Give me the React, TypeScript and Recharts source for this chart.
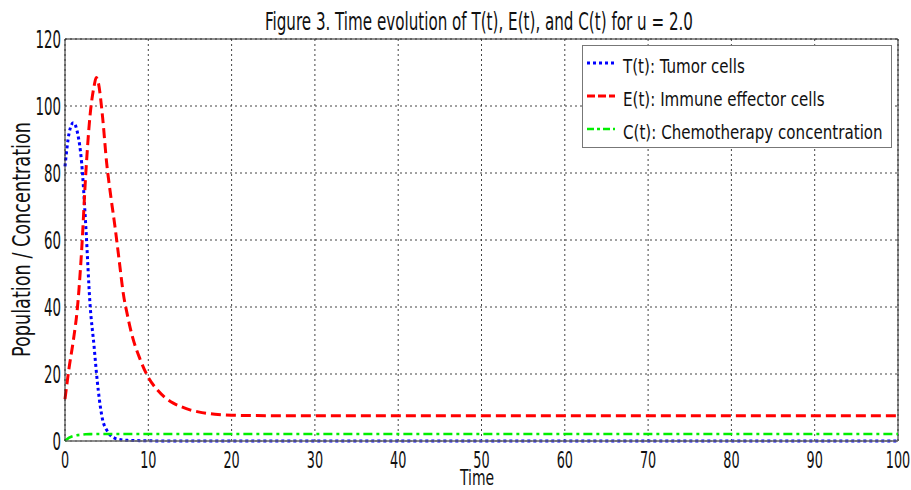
import React from "react";
import { LineChart, Line, XAxis, YAxis, CartesianGrid, Legend, ReferenceLine } from "recharts";

const timePoints = [0, 0.5, 1, 1.5, 2, 2.5, 3, 3.5, 3.75, 4, 4.5, 5, 5.5, 6, 6.5, 7, 7.5, 8, 9, 10, 11, 12, 13, 14, 15, 16, 18, 20, 25, 30, 40, 50, 60, 70, 80, 90, 100];
const tumor = [82, 92, 95, 92, 83, 64, 41, 28, 21, 15, 6.5, 3.3, 1.6, 0.8, 0.5, 0.3, 0.2, 0.15, 0.1, 0.05, 0.03, 0.02, 0.01, 0, 0, 0, 0, 0, 0, 0, 0, 0, 0, 0, 0, 0, 0];
const effector = [12.5, 22, 30, 40, 57, 80, 97, 106, 108.5, 107, 97, 83, 73, 64, 54, 44, 37.5, 32, 24.5, 19, 15.5, 13, 11.3, 10.2, 9.3, 8.7, 8.0, 7.7, 7.55, 7.55, 7.55, 7.55, 7.55, 7.55, 7.55, 7.55, 7.55];
const chemo = [0, 1.0, 1.5, 1.75, 1.9, 2.0, 2.05, 2.08, 2.1, 2.1, 2.1, 2.1, 2.1, 2.1, 2.1, 2.1, 2.1, 2.1, 2.1, 2.1, 2.1, 2.1, 2.1, 2.1, 2.1, 2.1, 2.1, 2.1, 2.1, 2.1, 2.1, 2.1, 2.1, 2.1, 2.1, 2.1, 2.1];

const xTicks = [0, 10, 20, 30, 40, 50, 60, 70, 80, 90, 100];
const yTicks = [0, 20, 40, 60, 80, 100, 120];

const titleText = "Figure 3. Time evolution of T(t), E(t), and C(t) for u = 2.0";
const xLabel = "Time";
const yLabel = "Population / Concentration";

const seriesMeta = [
  { key: "T", name: "T(t): Tumor cells", color: "#0000ff", dash: "3 3", width: 3, legendDash: "3 3" },
  { key: "E", name: "E(t): Immune effector cells", color: "#ff0000", dash: "10 5", width: 3, legendDash: "8 3" },
  { key: "C", name: "C(t): Chemotherapy concentration", color: "#00ee00", dash: "9 4 3 4", width: 2.6, legendDash: "7 3 3 3" },
];

const data = timePoints.map((t, i) => ({ t, T: tumor[i], E: effector[i], C: chemo[i] }));

const FONT = "'DejaVu Sans Condensed', 'Liberation Sans Narrow', 'Liberation Sans', sans-serif";

const XTick = (props: any) => {
  const { x, y, payload } = props;
  return (
    <g transform={`translate(${x},${y})`}>
      <text transform="scale(0.62,1)" textAnchor="middle" y={27} fontSize={23} fontFamily={FONT} fill="#111">
        {payload.value}
      </text>
    </g>
  );
};

const YTick = (props: any) => {
  const { x, y, payload } = props;
  return (
    <g transform={`translate(${x},${y})`}>
      <text transform="scale(0.62,1)" textAnchor="end" y={9} fontSize={24} fontFamily={FONT} fill="#111">
        {payload.value}
      </text>
    </g>
  );
};

const renderLegend = () => {
  return (
    <svg width={311} height={104} style={{ display: "block", background: "#fff" }}>
      <rect x={0.5} y={0.5} width={309} height={102} fill="#fff" stroke="#777" strokeWidth={1} />
      {seriesMeta.map((s, i) => {
        const lineY = 18 + i * 33;
        return (
          <g key={s.key}>
            <line x1={5} x2={33} y1={lineY} y2={lineY} stroke={s.color} strokeWidth={s.width} strokeDasharray={s.legendDash} />
            <g transform={`translate(41,${lineY + 10})`}>
              <text transform="scale(0.84,1)" fontSize={20} fontFamily={FONT} fill="#111">
                {s.name}
              </text>
            </g>
          </g>
        );
      })}
    </svg>
  );
};

export default function App() {
  return (
    <div style={{ position: "absolute", left: 0, top: 0, width: 911, height: 490, background: "#fff" }}>
      <LineChart width={911} height={490} data={data} margin={{ top: 39, right: 13, left: 0, bottom: 0 }}>
        <CartesianGrid stroke="#444" strokeDasharray="2 3" strokeWidth={1} />
        <XAxis
          dataKey="t"
          type="number"
          domain={[0, 100]}
          ticks={xTicks}
          height={49}
          tickSize={0}
          tickMargin={0}
          tickLine={false}
          axisLine={{ stroke: "#666", strokeWidth: 1.5 }}
          tick={<XTick />}
          interval={0}
        />
        <YAxis
          type="number"
          domain={[0, 120]}
          ticks={yTicks}
          width={65}
          tickSize={0}
          tickMargin={4}
          tickLine={false}
          axisLine={{ stroke: "#222", strokeWidth: 1 }}
          tick={<YTick />}
          interval={0}
        />
        <ReferenceLine y={120} stroke="#222" strokeWidth={1} />
        <ReferenceLine x={100} stroke="#222" strokeWidth={1} />
        {seriesMeta.map((s) => (
          <Line
            key={s.key}
            type="monotone"
            dataKey={s.key}
            name={s.name}
            stroke={s.color}
            strokeWidth={s.width}
            strokeDasharray={s.dash}
            dot={false}
            activeDot={false}
            isAnimationActive={false}
          />
        ))}
        <Legend
          layout="vertical"
          align="center"
          verticalAlign="middle"
          content={renderLegend}
          wrapperStyle={{ position: "absolute", left: 582, top: 45, width: 311, height: 104 }}
        />
      </LineChart>
      <svg width={911} height={490} style={{ position: "absolute", left: 0, top: 0, pointerEvents: "none" }}>
        <text x={479} y={30} textAnchor="middle" fontSize={25} fontFamily={FONT} fill="#111" textLength={428} lengthAdjust="spacingAndGlyphs">
          {titleText}
        </text>
        <text x={477} y={485} textAnchor="middle" fontSize={22} fontFamily={FONT} fill="#111" textLength={34} lengthAdjust="spacingAndGlyphs">
          {xLabel}
        </text>
        <text
          x={0}
          y={0}
          transform="translate(30,239.5) rotate(-90)"
          textAnchor="middle"
          fontSize={24}
          fontFamily={FONT}
          fill="#111"
          textLength={235}
          lengthAdjust="spacingAndGlyphs"
        >
          {yLabel}
        </text>
      </svg>
    </div>
  );
}
